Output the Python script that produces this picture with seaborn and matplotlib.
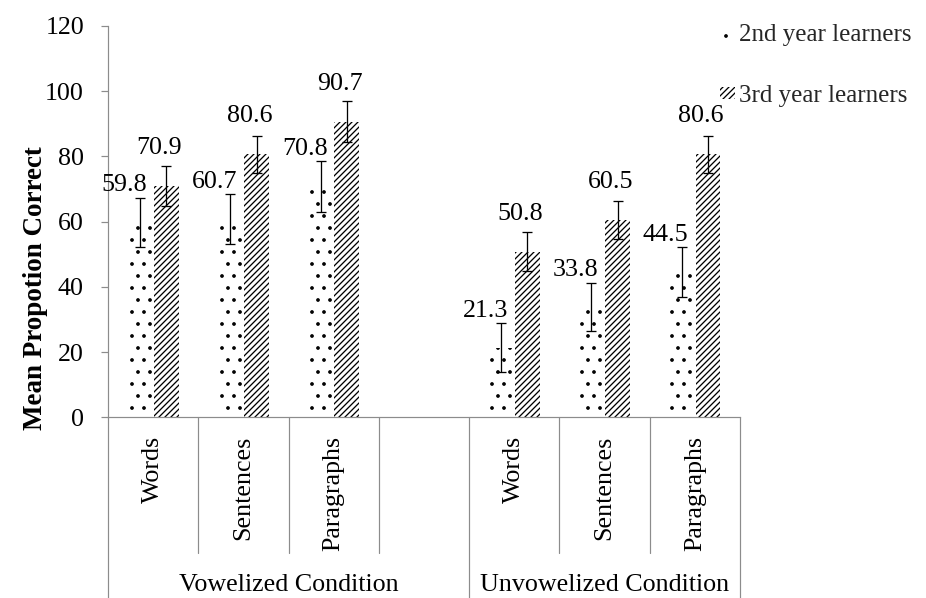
import numpy as np
import pandas as pd
import matplotlib
matplotlib.use("Agg")
import matplotlib.pyplot as plt
import seaborn as sns
from matplotlib.patches import Patch

# ---- data ----
conditions = ["Vowelized Condition", "Unvowelized Condition"]
categories = ["Words", "Sentences", "Paragraphs"]
series = ["2nd year learners", "3rd year learners"]
second_year = [59.8, 60.7, 70.8, 21.3, 33.8, 44.5]
third_year = [70.9, 80.6, 90.7, 50.8, 60.5, 80.6]
second_err = [7.6, 7.7, 7.7, 7.5, 7.3, 7.6]
third_err = [6.1, 5.7, 6.2, 6.0, 5.9, 5.8]
yticks = [0, 20, 40, 60, 80, 100, 120]
ylabel = "Mean Propotion Correct"

# slots: 3 vowelized, one empty slot, 3 unvowelized
slot_keys = ["V|Words", "V|Sentences", "V|Paragraphs", "gap",
             "U|Words", "U|Sentences", "U|Paragraphs"]
bar_keys = [k for k in slot_keys if k != "gap"]

rows = []
for i, k in enumerate(bar_keys):
    rows.append({"slot": k, "series": series[0], "value": second_year[i], "err": second_err[i]})
    rows.append({"slot": k, "series": series[1], "value": third_year[i], "err": third_err[i]})
df = pd.DataFrame(rows)

sns.set_theme(style="white")
plt.rcParams["font.family"] = ["Liberation Serif", "DejaVu Serif"]
plt.rcParams["hatch.linewidth"] = 1.3

fig = plt.figure(figsize=(926 / 72, 598 / 72), dpi=72)
ax = fig.add_axes([108 / 926, 1 - 417.3 / 598, 632 / 926, 391.3 / 598])

sns.barplot(data=df, x="slot", y="value", hue="series", order=slot_keys,
            hue_order=series, errorbar=None, width=0.58, gap=0.06,
            palette=["white", "white"], ax=ax, legend=False)

hatches = [".", "////"]
errs = [second_err, third_err]
vals = [second_year, third_year]
label_dx = [-16, -7]
label_dy = [31, 32]
bar_containers = list(ax.containers)
for s, cont in enumerate(bar_containers):
    bars = [b for b in cont if not np.isnan(b.get_height())]
    for i, b in enumerate(bars):
        b.set_facecolor("white")
        b.set_edgecolor("black")
        b.set_linewidth(0)
        b.set_hatch(hatches[s])
        xc = b.get_x() + b.get_width() / 2
        h = b.get_height()
        ax.errorbar(xc, h, yerr=errs[s][i], color="black", lw=1.3,
                    capsize=5, capthick=1.3, zorder=5)
        ax.annotate(f"{vals[s][i]:.1f}", xy=(xc, h), xytext=(label_dx[s], label_dy[s]),
                    textcoords="offset points", ha="center", va="baseline",
                    fontsize=26, color="black", zorder=6)

ax.set_xlim(-0.5, len(slot_keys) - 0.5)
ax.set_ylim(0, 120)
ax.set_yticks(yticks)
ax.set_yticklabels([str(t) for t in yticks], fontsize=26)
ax.set_xticks([])
ax.set_xlabel("")
ax.set_ylabel("")
for sp in ["top", "right"]:
    ax.spines[sp].set_visible(False)
for sp in ["left", "bottom"]:
    ax.spines[sp].set_color("#8c8c8c")
    ax.spines[sp].set_linewidth(1.2)
ax.tick_params(axis="y", direction="out", length=7, width=1.2, color="#8c8c8c",
               pad=17, left=True, labelcolor="black")

# multi-level category axis
tr = ax.get_xaxis_transform()
inner_bottom = -(552.7 - 417.3) / 391.3
outer_bottom = -(598 - 417.3) / 391.3
n = len(slot_keys)
for i in range(n + 1):
    x = i - 0.5
    outer = (i == 0) or (i == n) or (slot_keys[i - 1] == "gap")
    yb = outer_bottom if outer else inner_bottom
    ax.plot([x, x], [0, yb], transform=tr, color="#8c8c8c", lw=1.2, clip_on=False)

cat_top = -(436 - 417.3) / 391.3
for i, k in enumerate(slot_keys):
    if k == "gap":
        continue
    ax.text(i, cat_top, k.split("|")[1], transform=tr, rotation=90,
            ha="center", va="top", fontsize=26, color="black")

grp_y = -(585 - 417.3) / 391.3
ax.text(1.5, grp_y, conditions[0], transform=tr, ha="center", va="center",
        fontsize=26, color="black")
ax.text(5.0, grp_y, conditions[1], transform=tr, ha="center", va="center",
        fontsize=26, color="black")

fig.text(36 / 926, 1 - 288 / 598, ylabel, rotation=90, ha="center", va="center",
         fontsize=27, fontweight="bold", color="black")

handles = [Patch(facecolor="white", edgecolor="black", linewidth=0, hatch=h) for h in hatches]
fig.legend(handles, series, loc="upper left", bbox_to_anchor=(720 / 926, 1 - 24 / 598),
           frameon=False, fontsize=25, handlelength=0.6, handleheight=0.35,
           handletextpad=0.15, labelspacing=1.55, borderpad=0, borderaxespad=0)

fig.savefig("out.png", dpi=72)
